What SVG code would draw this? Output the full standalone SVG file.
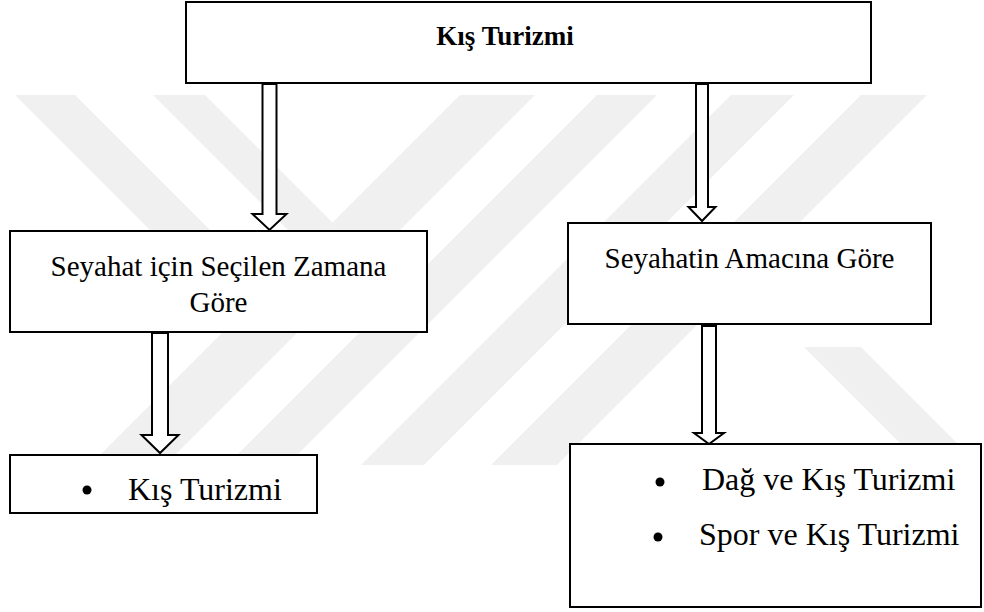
<svg xmlns="http://www.w3.org/2000/svg" width="984" height="612" viewBox="0 0 984 612">
  <defs>
    <style>
      .wm { fill: #f0f0f0; }
      .box { fill: #ffffff; stroke: #000000; stroke-width: 2; }
      .arrow { fill: #ffffff; stroke: #000000; stroke-width: 2; stroke-linejoin: miter; }
      text { font-family: 'Liberation Serif', 'Times New Roman', serif; fill: #000000; }
      .title { font-size: 27px; font-weight: bold; }
      .head { font-size: 29px; }
      .item { font-size: 32px; }
    </style>
    <clipPath id="wmClip">
      <rect x="0" y="95" width="984" height="370"/>
    </clipPath>
  </defs>

  <rect x="0" y="0" width="984" height="612" fill="#ffffff"/>

  <!-- faint background emblem: diagonal stripes -->
  <g id="watermark" clip-path="url(#wmClip)">
    <polygon class="wm" points="15,95 75,95 267.5,287.5 237.5,317.5"/>
    <polygon class="wm" points="153,95 205,95 332.5,222.5 306.5,248.5"/>
    <polygon class="wm" points="460,95 535,95 165,465 90,465"/>
    <polygon class="wm" points="597,95 657,95 287,465 227,465"/>
    <polygon class="wm" points="731,95 794,95 424,465 361,465"/>
    <polygon class="wm" points="861,95 927,95 557,465 491,465"/>
    <polygon class="wm" points="804,347 861,347 979,465 922,465"/>
  </g>

  <!-- connectors: hollow block arrows -->
  <g id="connectors">
    <polygon class="arrow" points="262.5,84 276.5,84 276.5,214 286.5,214 269.5,230 252.5,214 262.5,214"/>
    <polygon class="arrow" points="696,84 708,84 708,207 715.5,207 702,221 688.5,207 696,207"/>
    <polygon class="arrow" points="152,333 168,333 168,435 178.5,435 160,453 141.5,435 152,435"/>
    <polygon class="arrow" points="702,326 716,326 716,433 724,433 709,444 694,433 702,433"/>
  </g>

  <g id="node-root">
    <rect class="box" x="186" y="2" width="685" height="81"/>
    <text class="title" x="505" y="45" text-anchor="middle">Kış Turizmi</text>
  </g>

  <g id="node-time">
    <rect class="box" x="10" y="231" width="417" height="101"/>
    <text class="head" x="218.5" y="276" text-anchor="middle">Seyahat için Seçilen Zamana</text>
    <text class="head" x="218.5" y="312" text-anchor="middle">Göre</text>
  </g>

  <g id="node-purpose">
    <rect class="box" x="568" y="223" width="363" height="101"/>
    <text class="head" x="749.5" y="268" text-anchor="middle">Seyahatin Amacına Göre</text>
  </g>

  <g id="node-time-list">
    <rect class="box" x="10" y="455" width="307" height="58"/>
    <circle cx="87" cy="490" r="4.5" fill="#000000"/>
    <text class="item" x="128" y="500">Kış Turizmi</text>
  </g>

  <g id="node-purpose-list">
    <rect class="box" x="570" y="444" width="411" height="163"/>
    <circle cx="660" cy="482" r="4.5" fill="#000000"/>
    <text class="item" x="702" y="490">Dağ ve Kış Turizmi</text>
    <circle cx="658" cy="537" r="4.5" fill="#000000"/>
    <text class="item" x="699" y="545">Spor ve Kış Turizmi</text>
  </g>
</svg>
